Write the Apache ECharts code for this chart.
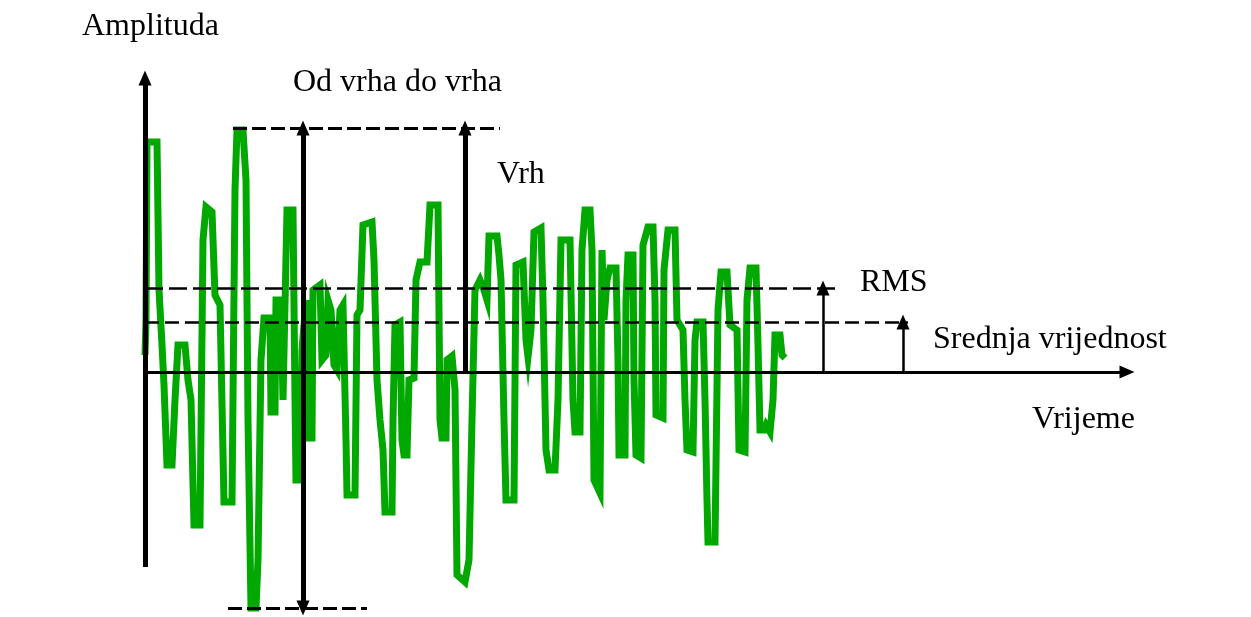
<!DOCTYPE html>
<html>
<head>
<meta charset="utf-8">
<script src="https://cdn.jsdelivr.net/npm/echarts@6/dist/echarts.min.js"></script>
<style>html,body{margin:0;padding:0;background:#fff}#c{width:1251px;height:617px}</style>
</head>
<body>
<div id="c"></div>
<script>
// signal: time (x) and amplitude (y)
const time = [0,1,2,12,14,17,19,22,27,30,33,40,43,46,49,55,58,61,67,70,75,79,87,90,92,98,101,103,106,111,113,116,119,125,126,130,131,136,138,140,142,148,150,151,155,157,161,163,167,168,175,177,181,183,186,189,192,195,198,201,202,210,212,215,218,227,229,232,235,238,240,247,248,250,255,257,259,262,264,269,271,275,282,285,293,295,297,301,302,307,310,312,320,324,327,330,335,339,342,344,352,354,356,359,361,369,371,378,381,383,386,389,396,398,401,404,410,413,416,425,428,430,435,437,440,445,447,449,455,457,459,462,465,471,473,474,480,481,483,488,489,491,496,498,503,508,510,511,518,519,523,530,532,538,540,542,548,550,552,558,560,562,563,570,573,576,582,585,592,594,600,602,605,611,613,615,619,621,625,628,630,635,637,640];
const amplitude = [17,52,230,230,82,27,-13,-93,-93,-28,27,27,-8,-28,-153,-153,132,165,160,77,67,-130,-130,182,242,242,192,-48,-236,-236,-188,12,54,54,-40,-40,72,72,-28,-28,162,162,-28,-108,-108,22,72,-66,-66,82,87,12,17,72,62,7,2,62,67,-68,-123,-123,57,62,147,150,112,-8,-48,-78,-140,-140,-48,47,50,-68,-83,-83,-8,-6,92,110,110,167,167,-48,-66,-66,12,16,-18,-203,-210,-188,-48,82,92,82,72,136,136,117,92,-48,-128,-128,107,110,32,15,42,140,144,72,-78,-98,-98,-28,132,132,-28,-60,-60,122,162,162,122,-108,-121,122,52,92,104,104,12,-83,-83,72,117,117,-8,-83,-86,127,145,145,72,-43,-46,102,142,142,52,42,-28,-78,-80,32,50,50,-28,-128,-170,-170,62,100,100,47,42,-78,-80,72,104,104,27,-58,-58,-53,-60,-28,37,37,17,14];
// reference levels
const peakLevel = 244;
const troughLevel = -236;
const rmsLevel = 84;
const meanLevel = 50;
// labels
const labels = ['Amplituda','Od vrha do vrha','Vrh','RMS','Srednja vrijednost','Vrijeme'];

const signal = time.map((t, i) => [t, amplitude[i]]);
const FONT = '32px "Liberation Serif", "Times New Roman", serif';

function seg(x1, y1, x2, y2, s1, s2, style) {
  return [
    { coord: [x1, y1], symbol: s1 || 'none', symbolSize: [13, 15], lineStyle: style },
    { coord: [x2, y2], symbol: s2 || 'none', symbolSize: [13, 15] }
  ];
}
const solid5 = { color: '#000', width: 5, type: 'solid' };
const solid3 = { color: '#000', width: 3, type: 'solid' };
const solid25 = { color: '#000', width: 2.5, type: 'solid' };
const dashA = { color: '#000', width: 3, type: [14, 5] };
const dashB = { color: '#000', width: 2.5, type: [18, 6] };
const dashC = { color: '#000', width: 2.5, type: [14, 6] };

const chart = echarts.init(document.getElementById('c'), null, { renderer: 'canvas' });
chart.setOption({
  animation: false,
  backgroundColor: '#fff',
  grid: { left: 145, right: 1251 - 145 - 982, top: 78, bottom: 5, containLabel: false },
  xAxis: { type: 'value', min: 0, max: 982, show: false },
  yAxis: { type: 'value', min: -240, max: 294, show: false },
  series: [
    {
      type: 'line',
      data: [],
      silent: true,
      markLine: {
        silent: true,
        label: { show: false },
        emphasis: { disabled: true },
        data: [
          seg(0, -195, 0, 294, 'none', 'triangle', solid5),
          seg(0, 0, 982, 0, 'none', 'triangle', solid3),
          seg(88, peakLevel, 355, peakLevel, 'none', 'none', dashA),
          seg(83, troughLevel, 222, troughLevel, 'none', 'none', dashA),
          seg(0, rmsLevel, 693, rmsLevel, 'none', 'none', dashB),
          seg(0, meanLevel, 763, meanLevel, 'none', 'none', dashC),
          seg(678, 0, 678, rmsLevel, 'none', 'triangle', solid25),
          seg(758, 0, 758, meanLevel, 'none', 'triangle', solid25)
        ]
      }
    },
    {
      type: 'line',
      data: signal,
      showSymbol: false,
      silent: true,
      lineStyle: { color: '#00a800', width: 7, join: 'miter' },
      z: 3
    },
    {
      type: 'line',
      data: [],
      silent: true,
      z: 4,
      markLine: {
        silent: true,
        label: { show: false },
        emphasis: { disabled: true },
        data: [
          seg(158, troughLevel, 158, peakLevel, 'triangle', 'triangle', solid5),
          seg(320, 0, 320, peakLevel, 'none', 'triangle', solid5)
        ]
      }
    }
  ],
  graphic: [
    { type: 'text', left: 82, top: 27 - 16, style: { text: labels[0], font: FONT, fill: '#000' } },
    { type: 'text', left: 293, top: 83 - 16, style: { text: labels[1], font: FONT, fill: '#000' } },
    { type: 'text', left: 497, top: 175 - 16, style: { text: labels[2], font: FONT, fill: '#000' } },
    { type: 'text', left: 860, top: 283 - 16, style: { text: labels[3], font: FONT, fill: '#000' } },
    { type: 'text', left: 933, top: 340 - 16, style: { text: labels[4], font: FONT, fill: '#000' } },
    { type: 'text', left: 1032, top: 420 - 16, style: { text: labels[5], font: FONT, fill: '#000' } }
  ]
});
</script>
</body>
</html>
